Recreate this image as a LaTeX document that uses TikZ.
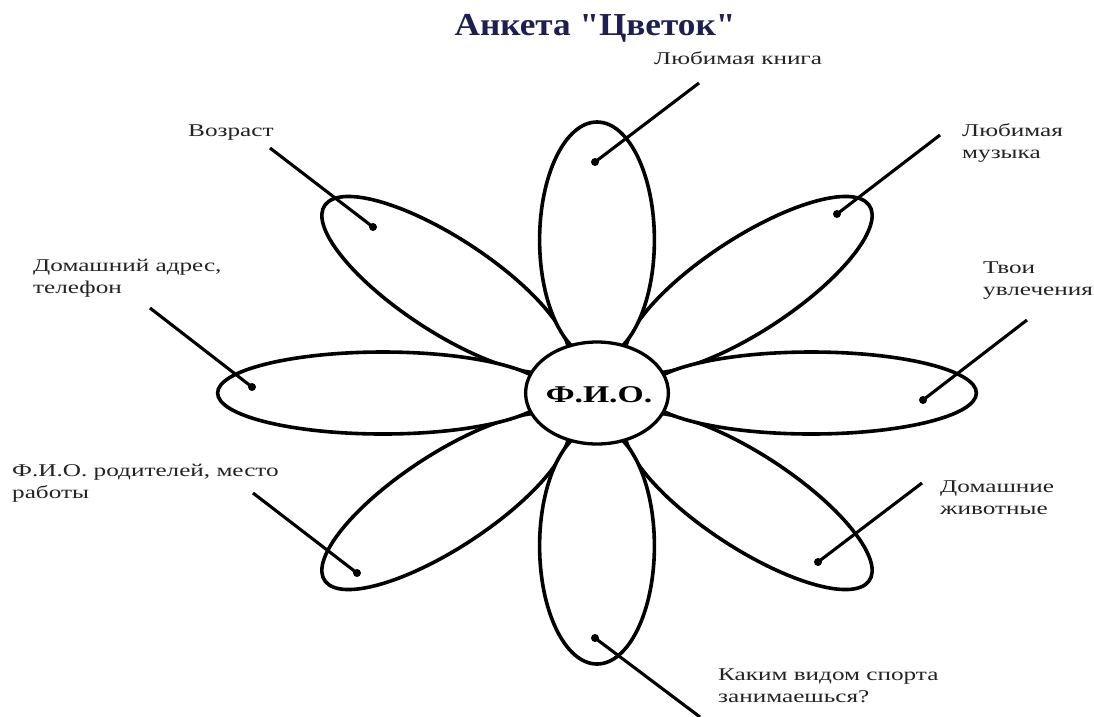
\documentclass[tikz,border=0pt]{standalone}
\usepackage{fontspec}
\setmainfont{Liberation Serif}
\newfontfamily\lblfont[FakeStretch=1.4]{Liberation Serif}
\newfontfamily\titlefont[FakeStretch=1.1]{Liberation Serif}
\definecolor{titlecol}{RGB}{30,30,80}
\definecolor{txtcol}{RGB}{35,35,35}
\begin{document}
\begin{tikzpicture}[x=1pt,y=-1pt,
  petal/.style={draw=black, line width=3.6pt, fill=white},
  core/.style={draw=black, line width=3.3pt, fill=white},
  conn/.style={draw=black, line width=3.1pt},
  dotmark/.style={circle, fill=black, inner sep=0pt, minimum size=8pt},
  lbl/.style={font=\lblfont\fontsize{18}{21.5}\selectfont, text=txtcol, align=left, anchor=base west, inner sep=0pt}]
\useasboundingbox (0,0) rectangle (1094,716);
\fill[white] (0,0) rectangle (1094,716);

\node[font=\titlefont\bfseries\fontsize{32}{38}\selectfont, text=titlecol, anchor=base, inner sep=0pt] (title) at (595,35) {Анкета "Цветок"};

% flower
\begin{scope}[shift={(597,393)}, xscale=1.4]
  \foreach \a in {45,135,225,315}
    \path[petal, rotate=\a] (153,0) ellipse [x radius=118, y radius=41];
  \foreach \a in {0,90,180,270}
    \path[petal, rotate=\a] (153,0) ellipse [x radius=118, y radius=41];
  \path[core] (0,0) circle [radius=51];
\end{scope}
\node[font=\lblfont\bfseries\fontsize{24}{28}\selectfont, inner sep=0pt] (fio) at (599,395) {Ф.И.О.};

% dots
\node[dotmark] (d1) at (595,162) {};
\node[dotmark] (d2) at (837,214) {};
\node[dotmark] (d3) at (923,400) {};
\node[dotmark] (d4) at (818,562) {};
\node[dotmark] (d5) at (595,638) {};
\node[dotmark] (d6) at (357,573) {};
\node[dotmark] (d7) at (252,387) {};
\node[dotmark] (d8) at (373,227) {};

% line starts
\coordinate (s1) at (699,83);
\coordinate (s2) at (940,135);
\coordinate (s3) at (1027,320);
\coordinate (s4) at (922,483);
\coordinate (s5) at (700,717);
\coordinate (s6) at (253,493);
\coordinate (s7) at (150,308);
\coordinate (s8) at (270,148);

\foreach \i in {1,...,8}
  \draw[conn] (s\i) -- (d\i.center);

% labels (anchor = baseline of the last line)
\node[lbl] (l1) at (654,64) {Любимая книга};
\node[lbl] (l2) at (962,158) {Любимая\\музыка};
\node[lbl] (l3) at (983,295) {Твои\\увлечения};
\node[lbl] (l4) at (940,514) {Домашние\\животные};
\node[lbl] (l5) at (718,702) {Каким видом спорта\\занимаешься?};
\node[lbl] (l6) at (12,498) {Ф.И.О. родителей, место\\работы};
\node[lbl] (l7) at (33,293) {Домашний адрес,\\телефон};
\node[lbl] (l8) at (188,136) {Возраст};
\end{tikzpicture}
\end{document}
